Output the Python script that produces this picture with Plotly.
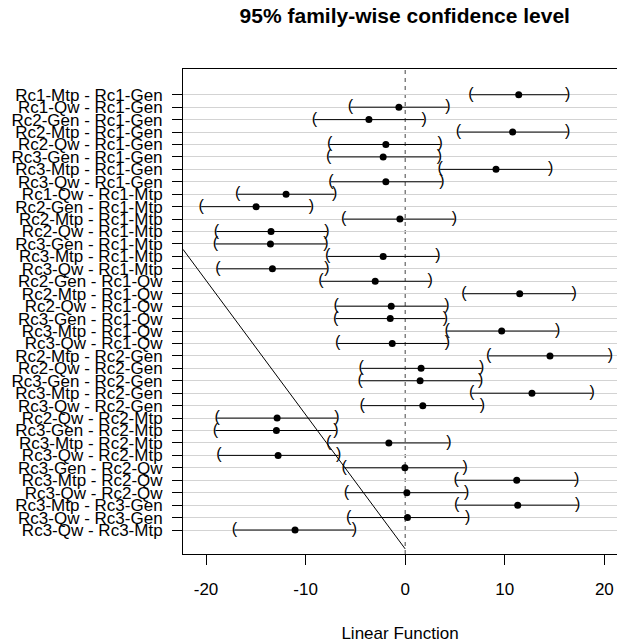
import plotly.graph_objects as go

# Pairwise comparisons (top to bottom)
comparisons = [
    "Rc1-Mtp - Rc1-Gen", "Rc1-Qw - Rc1-Gen", "Rc2-Gen - Rc1-Gen", "Rc2-Mtp - Rc1-Gen",
    "Rc2-Qw - Rc1-Gen", "Rc3-Gen - Rc1-Gen", "Rc3-Mtp - Rc1-Gen", "Rc3-Qw - Rc1-Gen",
    "Rc1-Qw - Rc1-Mtp", "Rc2-Gen - Rc1-Mtp", "Rc2-Mtp - Rc1-Mtp", "Rc2-Qw - Rc1-Mtp",
    "Rc3-Gen - Rc1-Mtp", "Rc3-Mtp - Rc1-Mtp", "Rc3-Qw - Rc1-Mtp", "Rc2-Gen - Rc1-Qw",
    "Rc2-Mtp - Rc1-Qw", "Rc2-Qw - Rc1-Qw", "Rc3-Gen - Rc1-Qw", "Rc3-Mtp - Rc1-Qw",
    "Rc3-Qw - Rc1-Qw", "Rc2-Mtp - Rc2-Gen", "Rc2-Qw - Rc2-Gen", "Rc3-Gen - Rc2-Gen",
    "Rc3-Mtp - Rc2-Gen", "Rc3-Qw - Rc2-Gen", "Rc2-Qw - Rc2-Mtp", "Rc3-Gen - Rc2-Mtp",
    "Rc3-Mtp - Rc2-Mtp", "Rc3-Qw - Rc2-Mtp", "Rc3-Gen - Rc2-Qw", "Rc3-Mtp - Rc2-Qw",
    "Rc3-Qw - Rc2-Qw", "Rc3-Mtp - Rc3-Gen", "Rc3-Qw - Rc3-Gen", "Rc3-Qw - Rc3-Mtp",
]

# Estimated differences and 95% family-wise interval bounds
diff = [
    11.40, -0.63, -3.64, 10.79, -1.94, -2.21, 9.12, -1.94,
    -11.96, -14.97, -0.53, -13.47, -13.53, -2.21, -13.33, -3.01,
    11.50, -1.40, -1.50, 9.69, -1.30, 14.54, 1.60, 1.50,
    12.73, 1.77, -12.86, -12.93, -1.64, -12.76, -0.03, 11.20,
    0.17, 11.30, 0.23, -11.06,
]
lwr = [
    6.59, -5.51, -9.12, 5.35, -7.59, -7.69, 3.51, -7.45,
    -16.81, -20.48, -6.18, -18.95, -19.05, -7.79, -18.81, -8.45,
    5.91, -6.92, -6.98, 4.21, -6.78, 8.39, -4.41, -4.51,
    6.68, -4.31, -18.88, -19.05, -7.69, -18.71, -6.12, 5.11,
    -5.91, 5.18, -5.68, -17.14,
]
upr = [
    16.31, 4.28, 1.90, 16.31, 3.51, 3.44, 14.60, 3.68,
    -7.09, -9.42, 4.95, -7.85, -7.95, 3.28, -7.85, 2.51,
    16.98, 4.18, 4.04, 15.31, 4.25, 20.62, 7.69, 7.59,
    18.78, 7.75, -6.85, -6.95, 4.38, -6.68, 6.02, 17.21,
    6.18, 17.31, 6.28, -5.11,
]

# Reference diagonal segment
diag_x = [-22.31, 0.0]
diag_y = [12.43, 36.52]

x_ticks = [-20, -10, 0, 10, 20]

rows = list(range(len(comparisons)))
FONT = "Liberation Sans, Arial, sans-serif"

fig = go.Figure()

# Interval segments
seg_x, seg_y = [], []
for i in rows:
    seg_x += [lwr[i], upr[i], None]
    seg_y += [i, i, None]
fig.add_trace(go.Scatter(
    x=seg_x, y=seg_y, mode="lines",
    line=dict(color="black", width=1), hoverinfo="skip",
))

# Bracket ends
fig.add_trace(go.Scatter(
    x=lwr, y=rows, mode="text", text=["("] * len(rows),
    textfont=dict(family=FONT, size=16, color="black"), hoverinfo="skip",
))
fig.add_trace(go.Scatter(
    x=upr, y=rows, mode="text", text=[")"] * len(rows),
    textfont=dict(family=FONT, size=16, color="black"), hoverinfo="skip",
))

# Point estimates
fig.add_trace(go.Scatter(
    x=diff, y=rows, mode="markers",
    marker=dict(color="black", size=7, line=dict(width=0)),
))

# Diagonal line
fig.add_trace(go.Scatter(
    x=diag_x, y=diag_y, mode="lines",
    line=dict(color="black", width=1), hoverinfo="skip",
))

# Zero reference line
fig.add_shape(
    type="line", xref="x", yref="paper", x0=0, x1=0, y0=0, y1=1,
    line=dict(color="#444444", width=1, dash="4px,4px"), layer="below",
)

fig.update_layout(
    width=617, height=643,
    margin=dict(l=183, r=0, t=69, b=89),
    paper_bgcolor="white", plot_bgcolor="white",
    showlegend=False,
    font=dict(family=FONT, size=17, color="black"),
    title=dict(
        text="<b>95% family-wise confidence level</b>",
        font=dict(family=FONT, size=21, color="black"),
        xref="paper", x=0.511, xanchor="center",
        yref="container", y=1 - 16 / 643, yanchor="middle",
    ),
    xaxis=dict(
        range=[-22.31, 21.27], tickvals=x_ticks,
        ticktext=[str(v) for v in x_ticks],
        showgrid=False, zeroline=False,
        showline=True, linecolor="black", linewidth=1, mirror=True,
        ticks="outside", ticklen=10, tickcolor="black", tickwidth=1,
        tickfont=dict(family=FONT, size=17, color="black"),
        ticklabelstandoff=10,
        title=dict(text="Linear Function", standoff=28,
                   font=dict(family=FONT, size=17, color="black")),
    ),
    yaxis=dict(
        range=[36.93, -2.07], tickvals=rows, ticktext=comparisons,
        showgrid=True, gridcolor="#d3d3d3", gridwidth=1,
        zeroline=False,
        showline=True, linecolor="black", linewidth=1, mirror=False,
        ticks="outside", ticklen=10, tickcolor="black", tickwidth=1,
        tickfont=dict(family=FONT, size=17, color="black"),
        ticklabelstandoff=6,
    ),
)

fig.write_html("out.html")
